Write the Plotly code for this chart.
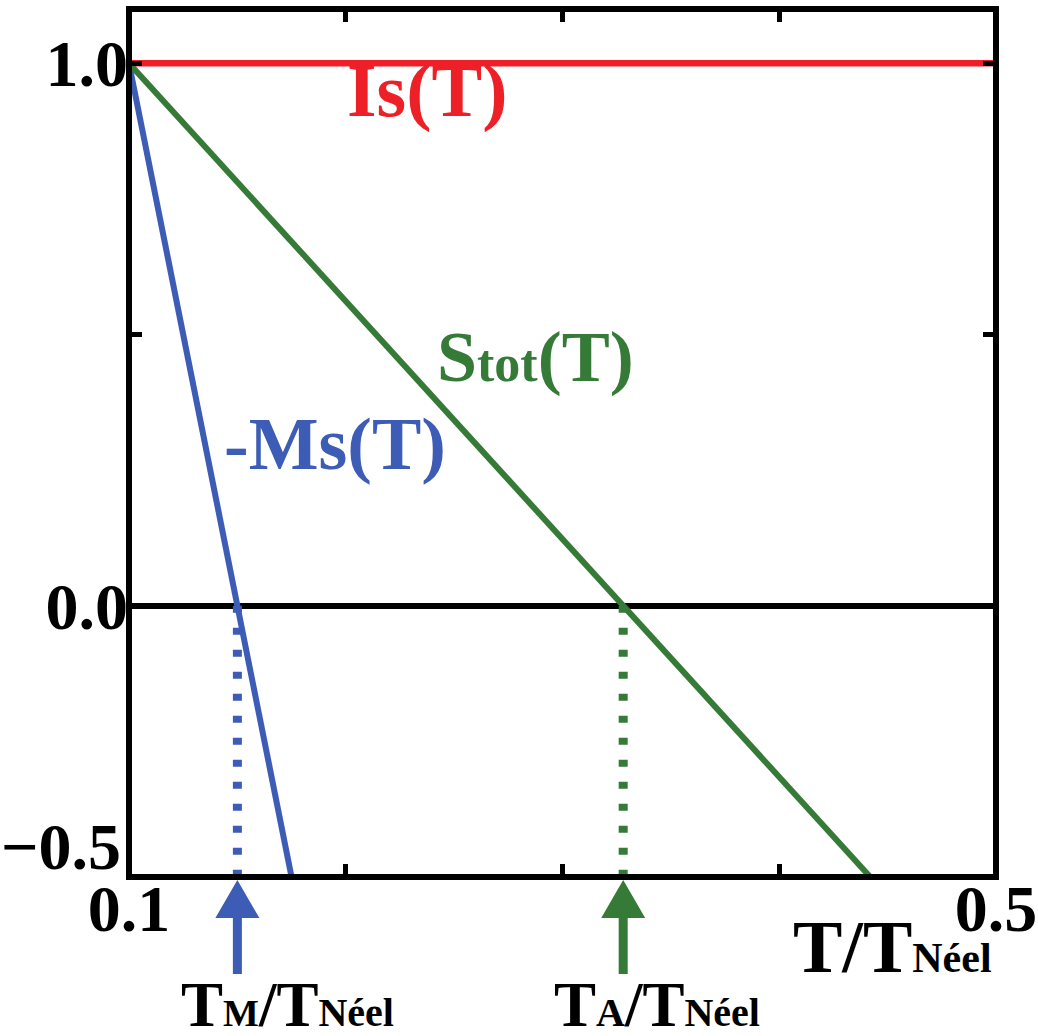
import plotly.graph_objects as go

# Reduced temperature axis and the three order-parameter curves
T_IS = [0.1, 0.5]
IS_VALUES = [1.0, 1.0]

T_MS = [0.1, 0.15, 0.175]
MS_VALUES = [1.0, 0.0, -0.5]

T_STOT = [0.1, 0.328, 0.442]
STOT_VALUES = [1.0, 0.0, -0.5]

# Compensation temperatures marked below the axis
T_M = 0.15
T_A = 0.328

X_TICKS = [0.1, 0.2, 0.3, 0.4, 0.5]
X_TICK_TEXT = ["0.1", "", "", "", "0.5"]
Y_TICKS = [1.0, 0.5, 0.0, -0.5]
Y_TICK_TEXT = ["1.0", "", "0.0", ""]

RED = "#ED1F27"
BLUE = "#3C5CB5"
GREEN = "#357A37"
FONT = "Liberation Serif"

fig = go.Figure()

fig.add_trace(go.Scatter(x=T_IS, y=IS_VALUES, mode="lines",
                         line=dict(color=RED, width=6.5)))
fig.add_trace(go.Scatter(x=T_MS, y=MS_VALUES, mode="lines",
                         line=dict(color=BLUE, width=6)))
fig.add_trace(go.Scatter(x=T_STOT, y=STOT_VALUES, mode="lines",
                         line=dict(color=GREEN, width=6)))

# dotted drops from the zero crossings down to the axis
for t, c in [(T_M, BLUE), (T_A, GREEN)]:
    fig.add_trace(go.Scatter(x=[t, t], y=[0.0, -0.5], mode="lines",
                             line=dict(color=c, width=9, dash="7px,15px")))

# arrows under the axis pointing at the compensation temperatures
arrow_path = ("M0,-3 L22,-41 L4.5,-41 L4.5,-97 L-4.5,-97 "
              "L-4.5,-41 L-22,-41 Z")
for t, c in [(T_M, BLUE), (T_A, GREEN)]:
    fig.add_shape(type="path", path=arrow_path,
                  xref="x", xsizemode="pixel", xanchor=t,
                  yref="paper", ysizemode="pixel", yanchor=0,
                  fillcolor=c, line=dict(width=0), layer="above")

# frame around the plotting area
fig.add_shape(type="rect", xref="paper", yref="paper", x0=0, x1=1, y0=0, y1=1,
              line=dict(color="black", width=6), layer="above")

def ann(text, x, y, color, size, xanchor="left", yanchor="middle",
        xref="x", yref="y", xshift=0, yshift=0):
    fig.add_annotation(text=text, x=x, y=y, xref=xref, yref=yref,
                       xanchor=xanchor, yanchor=yanchor, showarrow=False,
                       xshift=xshift, yshift=yshift,
                       font=dict(family=FONT, size=size, color=color,
                                 weight="bold"))

ann("Is(T)", 0.1997, 0.95, RED, 76)
ann("S<span style='font-size:52px'>tot</span>(T)", 0.2412, 0.458, GREEN, 72)
ann("-Ms(T)", 0.1429, 0.298, BLUE, 74)

ann("−0.5", 0, 0, "black", 66, xanchor="right", xref="paper", yref="paper",
    xshift=-6, yshift=31)

ann("T/T<span style='font-size:42px'>Néel</span>", 1, 0, "black", 74,
    xanchor="right", xref="paper", yref="paper", xshift=-2, yshift=-70)
ann("T<span style='font-size:38px'>M</span>/T<span style='font-size:40px'>Néel</span>",
    T_M, 0, "black", 63, xref="x", yref="paper", xshift=-58, yshift=-128)
ann("T<span style='font-size:40px'>A</span>/T<span style='font-size:40px'>Néel</span>",
    T_A, 0, "black", 63, xref="x", yref="paper", xshift=-71, yshift=-128)

tick_font = dict(family=FONT, size=66, color="black", weight="bold")

fig.update_xaxes(range=[0.1, 0.5], tickvals=X_TICKS, ticktext=X_TICK_TEXT,
                 ticks="inside", ticklen=13, tickwidth=5, tickcolor="black",
                 mirror="ticks", showline=False, showgrid=False,
                 zeroline=False, tickfont=tick_font, automargin=False,
                 ticklabelstandoff=-13)
fig.update_yaxes(range=[-0.5, 1.1], tickvals=Y_TICKS, ticktext=Y_TICK_TEXT,
                 ticks="inside", ticklen=13, tickwidth=5, tickcolor="black",
                 mirror="ticks", showline=False, showgrid=False,
                 zeroline=True, zerolinecolor="black", zerolinewidth=6,
                 tickfont=tick_font, automargin=False)

fig.update_layout(width=1038, height=1036, showlegend=False,
                  margin=dict(l=129, r=42, t=9, b=159),
                  plot_bgcolor="white", paper_bgcolor="white")

fig.write_html("out.html")
